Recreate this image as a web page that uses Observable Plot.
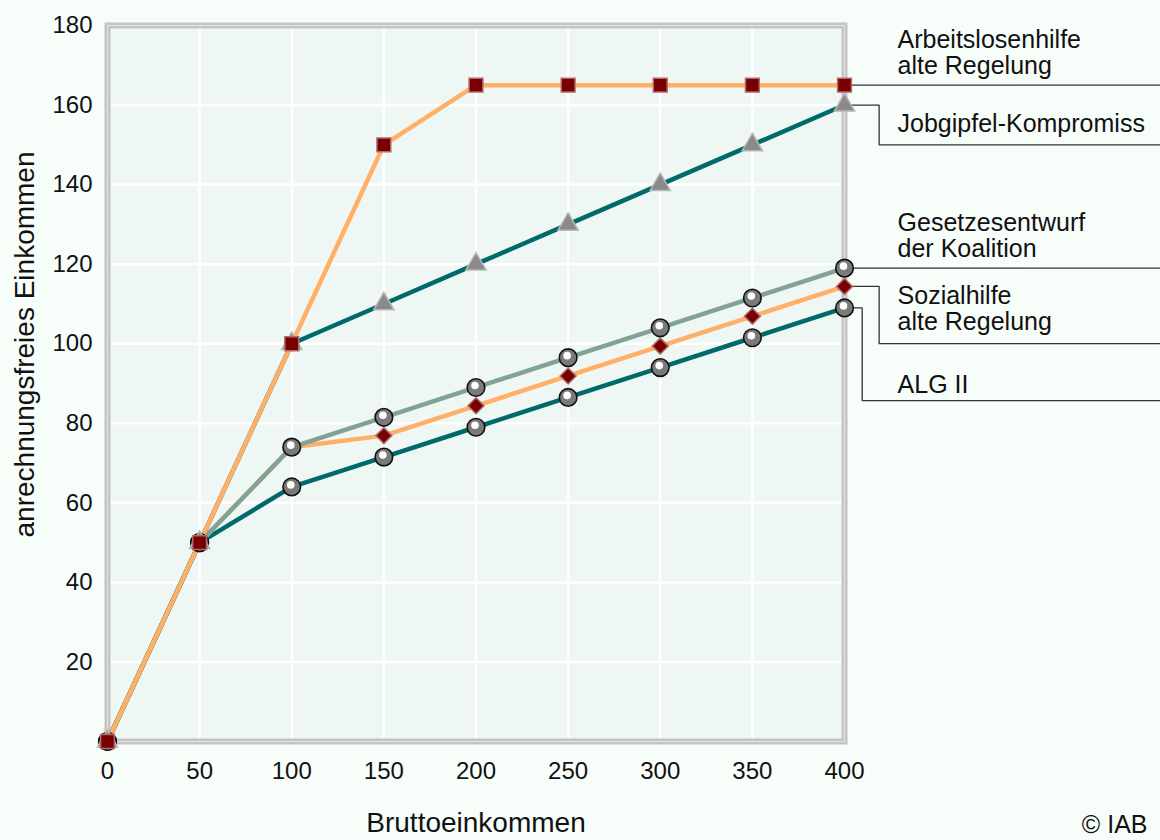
<!DOCTYPE html>
<html>
<head>
<meta charset="utf-8">
<script src="https://cdn.jsdelivr.net/npm/d3@7"></script>
<script src="https://cdn.jsdelivr.net/npm/@observablehq/plot@0.6"></script>
<style>
  html, body { margin: 0; padding: 0; background: #f7fdf9; }
</style>
</head>
<body>
<div id="chart"></div>
<script>
// ---- data ----
const brutto = [0, 50, 100, 150, 200, 250, 300, 350, 400];
const arbeitslosenhilfe = [0, 50, 100, 150, 165, 165, 165, 165, 165];
const jobgipfel = [0, 50, 100, 110, 120, 130, 140, 150, 160];
const gesetzentwurf = [0, 50, 74, 81.5, 89, 96.5, 104, 111.5, 119];
const sozialhilfe = [0, 50, 74, 76.9, 84.4, 91.9, 99.4, 106.9, 114.4];
const alg2 = [0, 50, 64, 71.5, 79, 86.5, 94, 101.5, 109];

const xTicks = [0, 50, 100, 150, 200, 250, 300, 350, 400];
const yTicks = [20, 40, 60, 80, 100, 120, 140, 160, 180];
const xGrid = [50, 100, 150, 200, 250, 300, 350];
const yGrid = [20, 40, 60, 80, 100, 120, 140, 160];

const seriesNames = ["Arbeitslosenhilfe\nalte Regelung", "Jobgipfel-Kompromiss", "Gesetzesentwurf\nder Koalition", "Sozialhilfe\nalte Regelung", "ALG II"];
const xTitle = "Bruttoeinkommen";
const yTitle = "anrechnungsfreies Einkommen";
const credit = "© IAB";

// ---- annotation layout (data units) ----
const labelX = 428.8;
const labelY = [173.1, 155.3, 127.2, 108.8, 89.8];
const elbowX = [null, 418.8, null, 418.8, 409.6];
const leaderEndY = [165, 150, 119, 100, 85.7];
const leaderEndX = 571.2;

// ---- tidy tables ----
const toRows = (vals, key) => brutto.map((x, i) => ({x, y: vals[i], key}));
const rowsA = toRows(arbeitslosenhilfe, "A");
const rowsJ = toRows(jobgipfel, "J");
const rowsG = toRows(gesetzentwurf, "G");
const rowsS = toRows(sozialhilfe, "S");
const rowsL = toRows(alg2, "L");

const lastVals = [arbeitslosenhilfe, jobgipfel, gesetzentwurf, sozialhilfe, alg2].map(a => a[a.length - 1]);
const leaders = [];
lastVals.forEach((v, i) => {
  leaders.push({k: i, x: 400, y: v});
  if (elbowX[i] != null) {
    leaders.push({k: i, x: elbowX[i], y: v});
    leaders.push({k: i, x: elbowX[i], y: leaderEndY[i]});
  }
  leaders.push({k: i, x: leaderEndX, y: leaderEndY[i]});
});
const labels = seriesNames.map((name, i) => ({name, x: labelX, y: labelY[i]}));

const ORANGE = "#ffb066";
const TEAL = "#006a6a";
const SAGE = "#80a396";
const MAROON = "#780000";

const circleMarks = (rows) => [
  Plot.dot(rows, {x: "x", y: "y", r: 8.8, fill: "#7a7a7a", stroke: "#111", strokeWidth: 1.6}),
  Plot.dot(rows, {x: "x", y: "y", r: 3.8, fill: "#fff", dx: -1, dy: -2})
];

const chart = Plot.plot({
  width: 1160,
  height: 840,
  marginLeft: 107,
  marginRight: 316,
  marginTop: 25,
  marginBottom: 99,
  style: {background: "#f7fdf9", fontFamily: "'Liberation Sans', Arial, sans-serif", color: "#111"},
  x: {domain: [0, 400]},
  y: {domain: [0, 180]},
  marks: [
    Plot.frame({fill: "#eff7f4", stroke: null}),
    Plot.gridX(xGrid, {stroke: "#ffffff", strokeOpacity: 1, strokeWidth: 2.5}),
    Plot.gridY(yGrid, {stroke: "#ffffff", strokeOpacity: 1, strokeWidth: 2.5}),
    Plot.frame({stroke: "#c4c4c4", strokeWidth: 6}),
    Plot.frame({stroke: "#e6e6e6", strokeWidth: 1}),
    Plot.axisX({ticks: xTicks, tickSize: 0, tickPadding: 20, fontSize: 24, label: null, tickFormat: d => d}),
    Plot.axisY({ticks: yTicks, tickSize: 0, tickPadding: 15, fontSize: 24, label: null, tickFormat: d => d}),
    // leader lines
    Plot.line(leaders, {x: "x", y: "y", z: "k", stroke: "#333", strokeWidth: 1.3, curve: "linear"}),
    // series lines (bottom to top)
    Plot.line(rowsL, {x: "x", y: "y", stroke: TEAL, strokeWidth: 4.5}),
    Plot.line(rowsS, {x: "x", y: "y", stroke: ORANGE, strokeWidth: 4.5}),
    Plot.line(rowsG, {x: "x", y: "y", stroke: SAGE, strokeWidth: 4.5}),
    Plot.line(rowsJ, {x: "x", y: "y", stroke: TEAL, strokeWidth: 4.5}),
    Plot.line(rowsA, {x: "x", y: "y", stroke: ORANGE, strokeWidth: 4.5}),
    // markers
    Plot.dot(rowsS, {x: "x", y: "y", symbol: "diamond2", r: 7.2, fill: MAROON, stroke: "#b06a6a", strokeWidth: 1.5}),
    ...circleMarks(rowsL),
    ...circleMarks(rowsG),
    Plot.dot(rowsJ, {x: "x", y: "y", symbol: "triangle", r: 7.5, fill: "#8a8a8a", stroke: "#b8b8b8", strokeWidth: 1.5}),
    Plot.dot(rowsA, {x: "x", y: "y", symbol: "square", r: 7.8, fill: MAROON, stroke: "#b06a6a", strokeWidth: 1.5}),
    // right labels
    Plot.text(labels, {x: "x", y: "y", text: "name", textAnchor: "start", lineAnchor: "middle", lineHeight: 1.05, fontSize: 25, fill: "#111"}),
    // axis titles
    Plot.text([xTitle], {frameAnchor: "bottom", dy: 82, fontSize: 28, fill: "#111", textAnchor: "middle", lineAnchor: "middle"}),
    Plot.text([yTitle], {frameAnchor: "left", rotate: -90, dx: -82, dy: -39, fontSize: 28, fill: "#111", textAnchor: "middle", lineAnchor: "middle"}),
    Plot.text([credit], {frameAnchor: "bottom-right", dx: 303, dy: 83, textAnchor: "end", fontSize: 25, fill: "#111", lineAnchor: "middle"})
  ]
});
document.getElementById("chart").appendChild(chart);
</script>
</body>
</html>
